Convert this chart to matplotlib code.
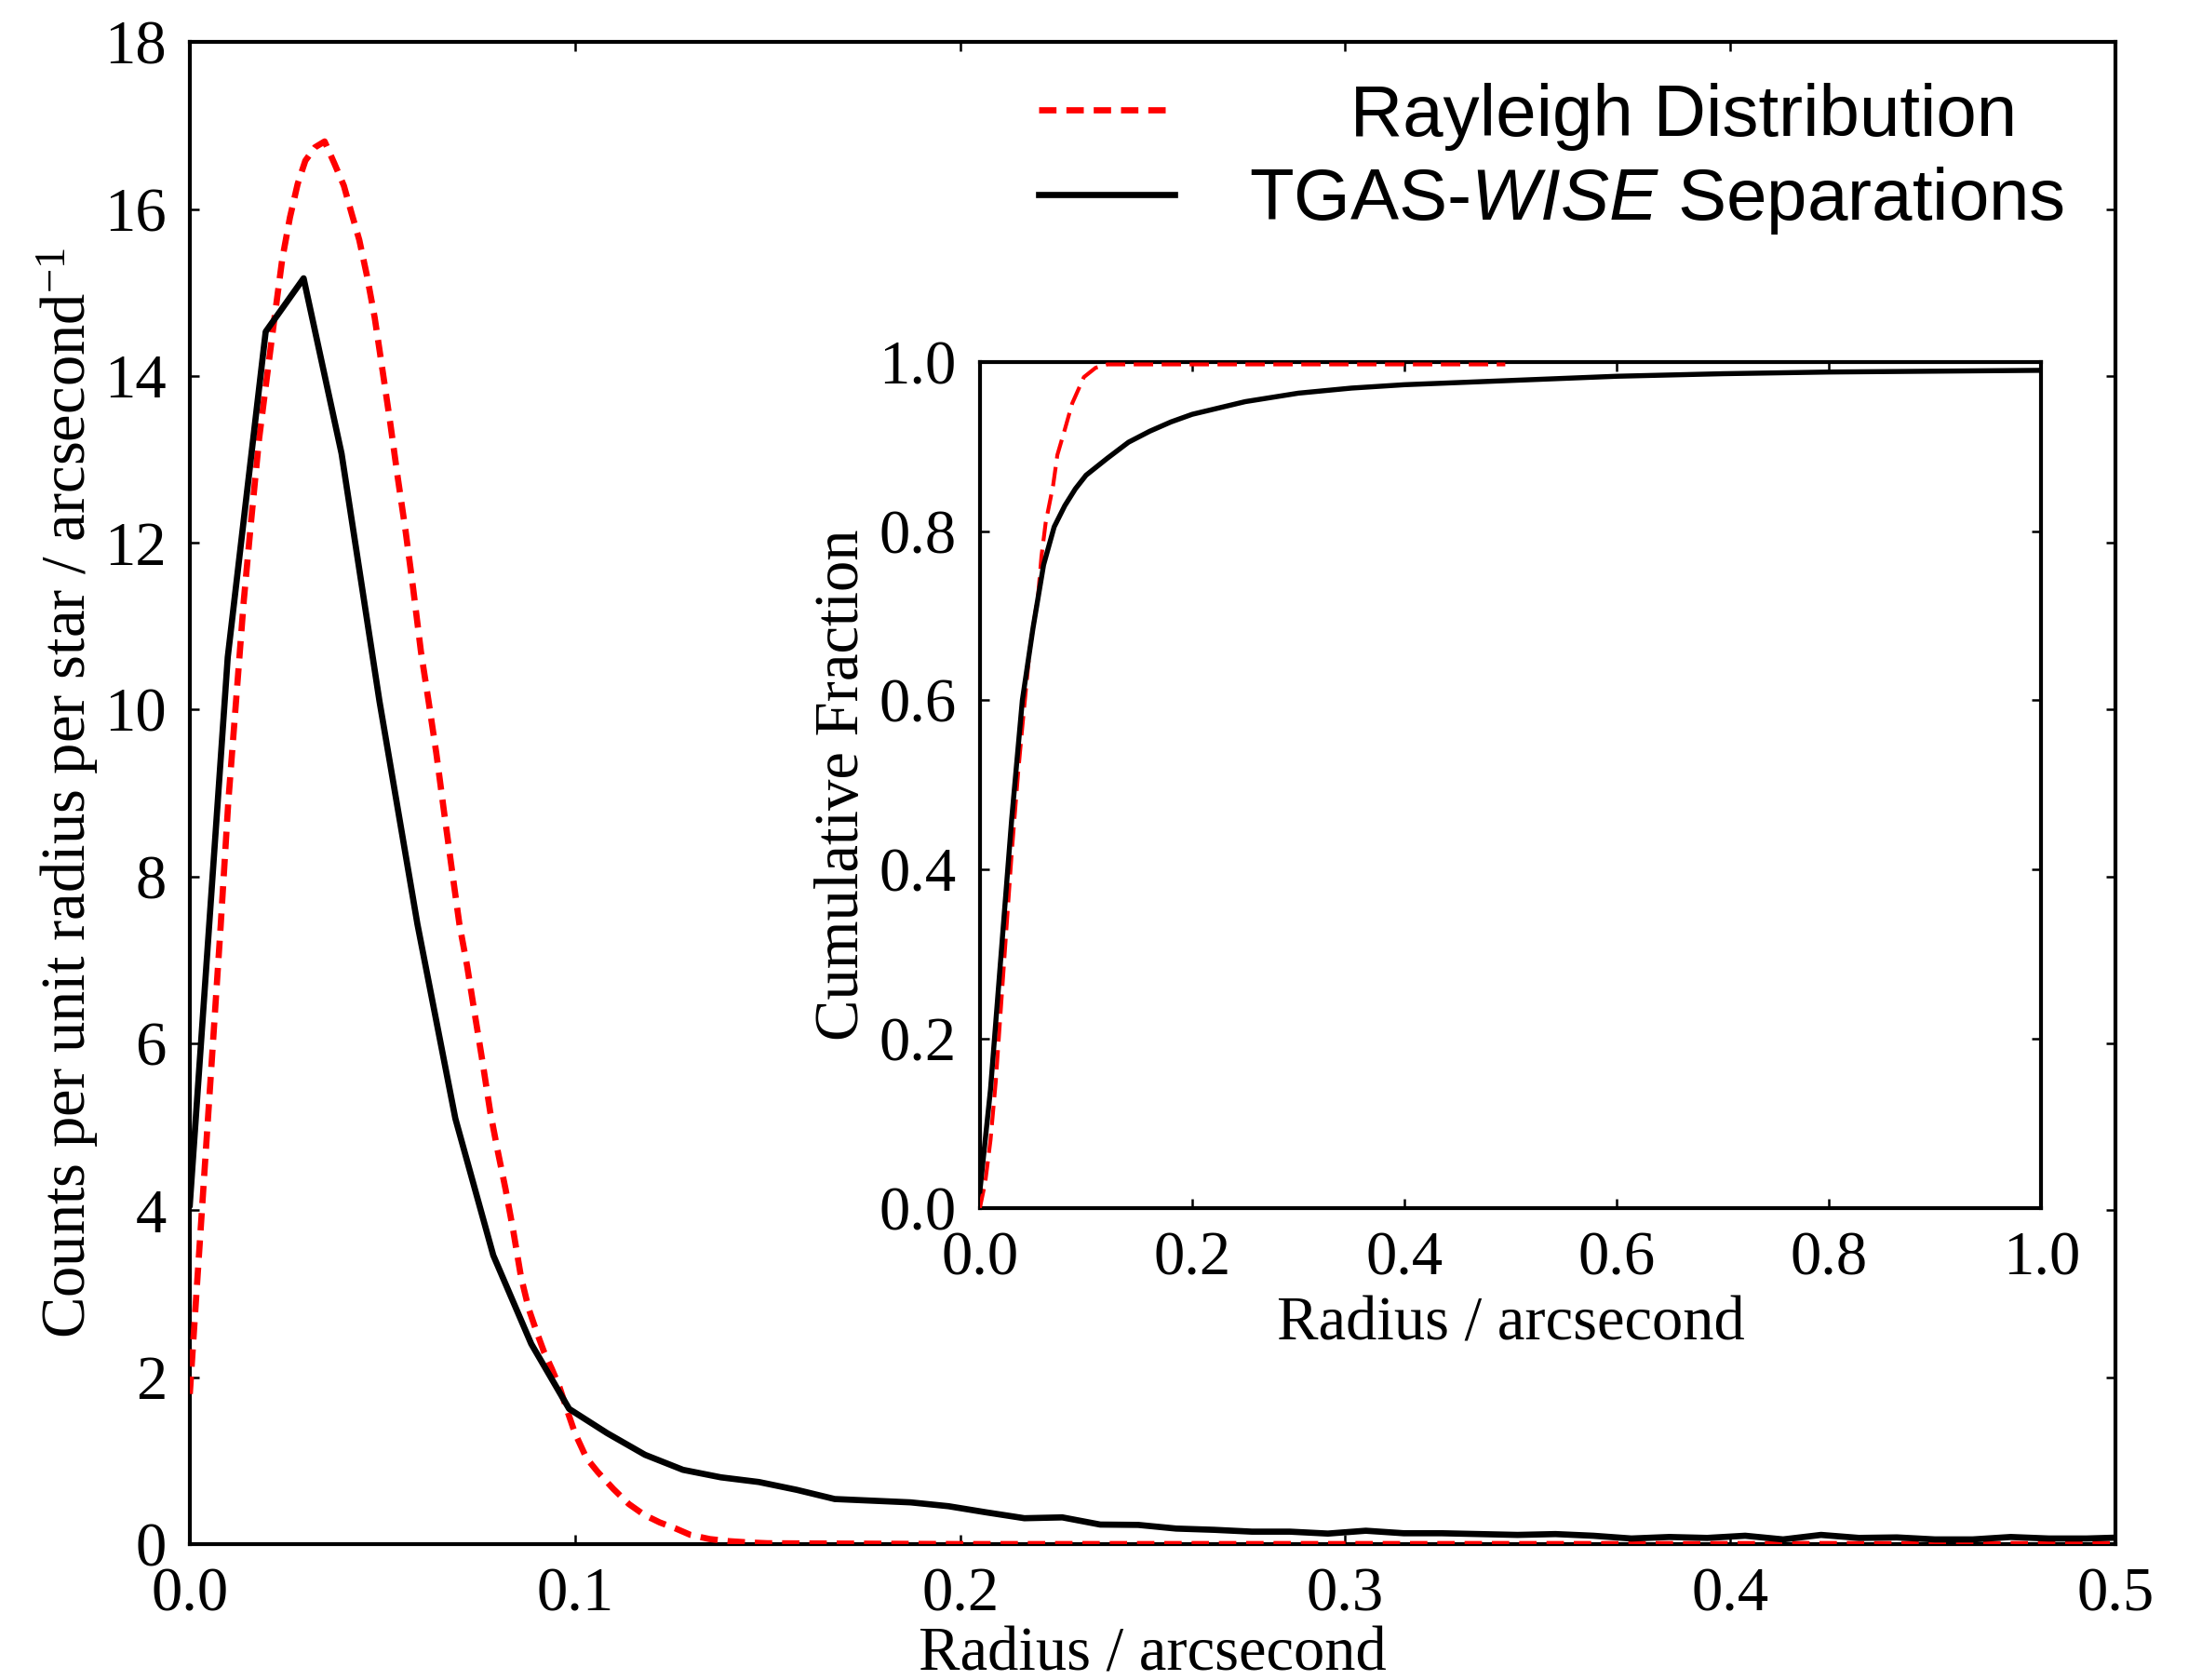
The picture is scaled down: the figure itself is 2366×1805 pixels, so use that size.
import matplotlib
matplotlib.use("Agg")
import matplotlib.pyplot as plt
import numpy as np

plt.rcParams['font.family'] = ['Liberation Serif', 'DejaVu Serif']
plt.rcParams['mathtext.fontset'] = 'custom'
plt.rcParams['mathtext.rm'] = 'Liberation Serif'
plt.rcParams['mathtext.it'] = 'Liberation Sans:italic'
plt.rcParams['mathtext.default'] = 'rm'

# histogram of TGAS-WISE separations (bin width)
sep_x = np.arange(52) * 0.00985
sep_y = [4.07, 10.63, 14.53, 15.17, 13.07, 10.1, 7.43, 5.10, 3.46, 2.40,
         1.62, 1.33, 1.07, 0.89, 0.80, 0.744, 0.65, 0.54, 0.52, 0.50,
         0.454, 0.38, 0.31, 0.32, 0.234, 0.23, 0.186, 0.171, 0.149, 0.149,
         0.126, 0.16, 0.13, 0.13, 0.12, 0.11, 0.12, 0.10, 0.067, 0.085,
         0.074, 0.10, 0.056, 0.11, 0.074, 0.08, 0.056, 0.056, 0.085, 0.067,
         0.067, 0.08]

# rayleigh curve
ray_x = [0.0, 0.002, 0.004, 0.006, 0.008, 0.010, 0.012, 0.014, 0.016, 0.018,
         0.020, 0.022, 0.024, 0.026, 0.028, 0.030, 0.0325, 0.035, 0.0375, 0.040,
         0.042, 0.044, 0.046, 0.048, 0.050, 0.052, 0.054, 0.056, 0.058, 0.060,
         0.062, 0.064, 0.066, 0.068, 0.070, 0.072, 0.074, 0.076, 0.078, 0.080,
         0.082, 0.084, 0.086, 0.088, 0.090, 0.092, 0.094, 0.096, 0.098, 0.100,
         0.103, 0.106, 0.110, 0.114, 0.118, 0.122, 0.126, 0.130, 0.135, 0.140,
         0.145, 0.150, 0.20, 0.30, 0.40, 0.50]
ray_y = [1.8, 3.2, 4.6, 6.0, 7.4, 8.9, 10.1, 11.3, 12.3, 13.25,
         13.98, 14.7, 15.4, 15.9, 16.3, 16.58, 16.74, 16.81, 16.55, 16.28,
         15.95, 15.63, 15.2, 14.7, 14.08, 13.45, 12.78, 12.15, 11.45, 10.7,
         10.1, 9.48, 8.78, 8.1, 7.43, 6.93, 6.35, 5.78, 5.18, 4.7,
         4.25, 3.75, 3.2, 2.82, 2.55, 2.3, 2.1, 1.88, 1.6, 1.33,
         1.03, 0.86, 0.66, 0.48, 0.35, 0.26, 0.19, 0.11, 0.06, 0.035,
         0.02, 0.01, 0.0, 0.0, 0.0, 0.0]

# cumulative fractions for the inset
cum_sep_x = [0.0, 0.01, 0.02, 0.03, 0.04, 0.05, 0.06, 0.07, 0.08, 0.09,
             0.10, 0.12, 0.14, 0.16, 0.18, 0.20, 0.25, 0.30, 0.35, 0.40,
             0.50, 0.60, 0.70, 0.80, 0.90, 1.0]
cum_sep_y = [0.02, 0.14, 0.30, 0.46, 0.60, 0.685, 0.76, 0.805, 0.83, 0.85,
             0.866, 0.886, 0.905, 0.918, 0.929, 0.938, 0.953, 0.963, 0.969, 0.973,
             0.978, 0.983, 0.986, 0.988, 0.989, 0.990]
cum_ray_x = [0.0, 0.005, 0.01, 0.015, 0.02, 0.025, 0.03, 0.036, 0.04, 0.047,
             0.055, 0.058, 0.062, 0.069, 0.073, 0.08, 0.087, 0.098, 0.109, 0.12,
             0.2, 0.3, 0.4, 0.495]
cum_ray_y = [0.0, 0.03, 0.08, 0.15, 0.24, 0.33, 0.42, 0.514, 0.569, 0.66,
             0.726, 0.77, 0.81, 0.854, 0.89, 0.92, 0.951, 0.982, 0.993, 0.997,
             0.997, 0.997, 0.997, 0.997]

fig = plt.figure(figsize=(2366/300., 1805/300.), dpi=300)
ax = fig.add_axes([0.0862, 0.0809, 0.8745, 0.894])

ax.plot(ray_x, ray_y, color='red', lw=1.6, ls='--', dashes=(2.8, 1.6),
        label='     Rayleigh Distribution', zorder=3)
ax.plot(sep_x, sep_y, color='black', lw=1.6,
        label=r'TGAS-$\mathit{WISE}$ Separations', zorder=3)
ax.set_xlim(0, 0.5)
ax.set_ylim(0, 18)
ax.set_xticks([0.0, 0.1, 0.2, 0.3, 0.4, 0.5])
ax.set_xticklabels(['0.0', '0.1', '0.2', '0.3', '0.4', '0.5'])
ax.set_yticks(range(0, 19, 2))
ax.set_xlabel('Radius / arcsecond', fontsize=16, labelpad=0.5)
ax.set_ylabel(r'Counts per unit radius per star / arcsecond$^{-1}$', fontsize=16,
              labelpad=1)
ax.tick_params(direction='in', top=True, right=True, labelsize=16,
               length=2.5, width=0.6, pad=6)
for s in ax.spines.values():
    s.set_linewidth(1.0)

leg = ax.legend(loc='upper right', bbox_to_anchor=(1.0, 1.007), frameon=False,
                prop={'family': 'Liberation Sans', 'size': 18.75},
                handlelength=1.87, handletextpad=1.03, labelspacing=0.2,
                borderaxespad=0.3)

# inset
axi = fig.add_axes([0.445, 0.281, 0.482, 0.5036])
axi.plot(cum_ray_x, cum_ray_y, color='red', lw=1.0, ls='--', dashes=(5, 2.2),
         zorder=3)
axi.plot(cum_sep_x, cum_sep_y, color='black', lw=1.3, zorder=3)
axi.set_xlim(0, 1)
axi.set_ylim(0, 1)
axi.set_xticks(np.linspace(0, 1, 6))
axi.set_yticks(np.linspace(0, 1, 6))
axi.set_xticklabels(['0.0', '0.2', '0.4', '0.6', '0.8', '1.0'])
axi.set_yticklabels(['0.0', '0.2', '0.4', '0.6', '0.8', '1.0'])
axi.set_xlabel('Radius / arcsecond', fontsize=16, labelpad=2)
axi.set_ylabel('Cumulative Fraction', fontsize=16, labelpad=2)
axi.tick_params(direction='in', top=True, right=True, labelsize=16,
                length=2.5, width=0.6, pad=6)
for s in axi.spines.values():
    s.set_linewidth(1.0)

fig.savefig('out.png', dpi=300)
